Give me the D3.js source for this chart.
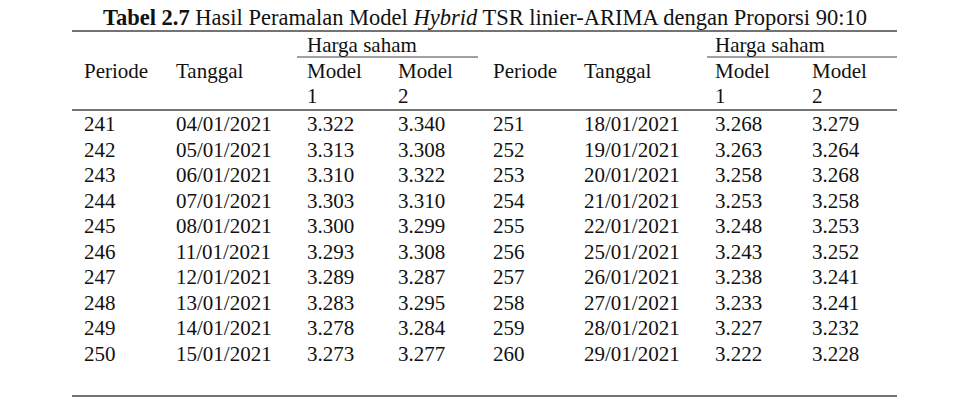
<!DOCTYPE html>
<html><head><meta charset="utf-8">
<script src="https://cdn.jsdelivr.net/npm/d3@7"></script>
<style>body{margin:0;background:#fff}</style></head>
<body><svg id="c" width="960" height="402"></svg>
<script>
const periodeLeft = [241,242,243,244,245,246,247,248,249,250];
const tanggalLeft = ["04/01/2021","05/01/2021","06/01/2021","07/01/2021","08/01/2021","11/01/2021","12/01/2021","13/01/2021","14/01/2021","15/01/2021"];
const model1Left = ["3.322","3.313","3.310","3.303","3.300","3.293","3.289","3.283","3.278","3.273"];
const model2Left = ["3.340","3.308","3.322","3.310","3.299","3.308","3.287","3.295","3.284","3.277"];
const periodeRight = [251,252,253,254,255,256,257,258,259,260];
const tanggalRight = ["18/01/2021","19/01/2021","20/01/2021","21/01/2021","22/01/2021","25/01/2021","26/01/2021","27/01/2021","28/01/2021","29/01/2021"];
const model1Right = ["3.268","3.263","3.258","3.253","3.248","3.243","3.238","3.233","3.227","3.222"];
const model2Right = ["3.279","3.264","3.268","3.258","3.253","3.252","3.241","3.241","3.232","3.228"];

const svg = d3.select("#c");
const font = "'Liberation Serif', serif";
const fs = 21;
const colX = [84,176,307,398,493,584,715,812];
const y = d3.scaleLinear().domain([0,9]).range([131,361]);

const t = svg.append("text").attr("x",485).attr("y",25).attr("text-anchor","middle")
  .attr("font-family",font).attr("font-size",22.5).attr("fill","#111");
t.append("tspan").attr("font-weight","bold").text("Tabel 2.7");
t.append("tspan").text(" Hasil Peramalan Model ");
t.append("tspan").attr("font-style","italic").text("Hybrid");
t.append("tspan").text(" TSR linier-ARIMA dengan Proporsi 90:10");

const line=(x1,x2,yy,w)=>svg.append("line").attr("x1",x1).attr("x2",x2).attr("y1",yy).attr("y2",yy).attr("stroke","#444").attr("stroke-width",w||1.2);
line(72,897,31,1.5);
line(297,478,57);
line(707,897,57);
line(72,897,110,1.3);
line(72,897,396,1.5);

const txt=(x,yy,s)=>svg.append("text").attr("x",x).attr("y",yy).attr("font-family",font).attr("font-size",fs).attr("fill","#111").text(s);
txt(307,52,"Harga saham");
txt(715,52,"Harga saham");
[["Periode",0],["Tanggal",1],["Model",2],["Model",3],["Periode",4],["Tanggal",5],["Model",6],["Model",7]].forEach(([s,i])=>txt(colX[i],78,s));
[["1",2],["2",3],["1",6],["2",7]].forEach(([s,i])=>txt(colX[i],103,s));

const cols=[periodeLeft,tanggalLeft,model1Left,model2Left,periodeRight,tanggalRight,model1Right,model2Right];
cols.forEach((arr,ci)=>{
  svg.append("g").selectAll("text").data(arr).join("text")
    .attr("x",colX[ci]).attr("y",(d,i)=>y(i))
    .attr("font-family",font).attr("font-size",fs).attr("fill","#111").text(d=>d);
});
</script></body></html>
